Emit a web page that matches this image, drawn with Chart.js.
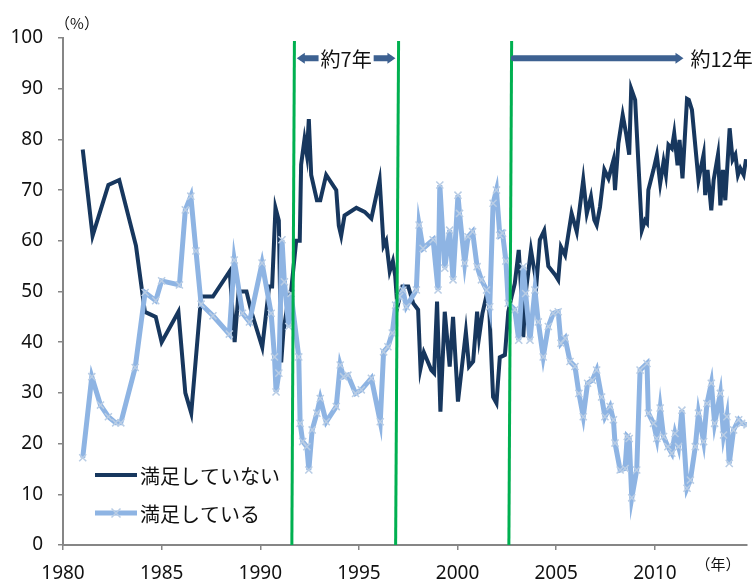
<!DOCTYPE html>
<html lang="ja">
<head>
<meta charset="utf-8">
<title>満足度の推移</title>
<script src="https://cdn.jsdelivr.net/npm/chart.js@4.4.1/dist/chart.umd.min.js"></script>
<style>
    html, body { margin: 0; padding: 0; background: #fff; }
    #wrap { position: relative; width: 756px; height: 581px; }
</style>
</head>
<body>
<div id="wrap"><canvas id="chart"></canvas></div>
<script>
const FONT = '"Noto Sans", "Noto Sans CJK JP", sans-serif';
const JP_FONT = '"Noto Sans CJK JP", "Noto Sans", sans-serif';

// 満足していない
const notSatisfiedYears = [
    1981.0, 1981.5, 1982.3, 1982.85, 1983.7, 1984.15, 1984.7, 1985.0, 1985.85, 1986.2,
    1986.5, 1987.0, 1987.6, 1988.45, 1988.7, 1988.9, 1989.3, 1989.55, 1990.1, 1990.45,
    1990.6, 1990.77, 1990.94, 1991.06, 1991.17, 1991.4, 1991.56, 1991.82, 1992.0, 1992.07,
    1992.24, 1992.36, 1992.46, 1992.58, 1992.87, 1993.04, 1993.34, 1993.85, 1993.98, 1994.1,
    1994.27, 1994.87, 1995.29, 1995.63, 1996.05, 1996.25, 1996.38, 1996.56, 1996.72, 1996.84,
    1996.95, 1997.2, 1997.5, 1997.75, 1998.0, 1998.12, 1998.29, 1998.67, 1998.81, 1998.96,
    1999.13, 1999.35, 1999.6, 1999.77, 2000.02, 2000.42, 2000.58, 2000.79, 2000.99, 2001.09,
    2001.26, 2001.47, 2001.6, 2001.8, 2001.97, 2002.14, 2002.4, 2002.57, 2002.74, 2002.9,
    2003.1, 2003.28, 2003.33, 2003.45, 2003.72, 2003.89, 2004.0, 2004.17, 2004.39, 2004.6,
    2004.94, 2005.1, 2005.24, 2005.45, 2005.78, 2006.04, 2006.37, 2006.55, 2006.76, 2006.93,
    2007.05, 2007.22, 2007.44, 2007.65, 2007.9, 2007.98, 2008.15, 2008.37, 2008.54, 2008.7,
    2008.8, 2009.0, 2009.34, 2009.5, 2009.6, 2009.67, 2009.93, 2010.1, 2010.27, 2010.44,
    2010.56, 2010.69, 2010.86, 2010.98, 2011.15, 2011.25, 2011.4, 2011.63, 2011.72, 2011.88,
    2012.21, 2012.47, 2012.55, 2012.67, 2012.86, 2012.98, 2013.2, 2013.32, 2013.45, 2013.57,
    2013.79, 2013.94, 2014.08, 2014.21, 2014.33, 2014.5, 2014.62
];
const notSatisfiedValues = [
    78, 61, 71, 72, 59, 46, 45, 40, 46, 30,
    26, 49, 49, 54, 40, 50, 50, 46, 39, 51,
    51, 66.5, 64, 36, 42, 48, 50, 60, 60, 75,
    80, 77, 84, 73, 68, 68, 73, 70, 63, 61,
    65, 66.5, 65.7, 64.4, 72, 59, 60, 54, 56, 53,
    47, 51, 51, 47.7, 46.4, 34.8, 38, 34.5, 33.9, 48,
    26.3, 46, 35.2, 45, 28.3, 42, 35.2, 36.2, 46, 41,
    45.7, 49.3, 47, 29.2, 28, 37, 37.5, 46, 49, 51.6,
    58.2, 46.4, 41, 49.6, 58.2, 54.2, 51.6, 60.2, 62, 55,
    53.3, 52.3, 58.8, 57.2, 65.4, 61.8, 72, 65.4, 68.7, 64.1,
    63.1, 66.7, 74, 72.3, 75.9, 70, 79.2, 84.8, 81.2, 77,
    90, 87.8, 62.1, 64, 63.5, 70, 74, 76.9, 71.3, 75.6,
    73, 78.9, 78.2, 81.2, 74.9, 79.9, 72.3, 88, 87.8, 85.8,
    72, 77, 69, 74, 66, 72, 77, 67, 74, 68,
    82.2, 76, 77, 73, 74.3, 73, 76.1
];

// 満足している
const satisfiedYears = [
    1981.0, 1981.46, 1981.9, 1982.3, 1982.67, 1982.93, 1983.66, 1984.16, 1984.7, 1985.0,
    1985.9, 1986.2, 1986.48, 1986.74, 1987.0, 1987.6, 1988.43, 1988.68, 1989.1, 1989.45,
    1990.09, 1990.55, 1990.72, 1990.8, 1990.94, 1991.1, 1991.22, 1991.44, 1991.56, 1991.95,
    1992.02, 1992.15, 1992.36, 1992.46, 1992.63, 1992.87, 1993.04, 1993.34, 1993.85, 1994.05,
    1994.22, 1994.44, 1994.83, 1995.12, 1995.63, 1996.08, 1996.25, 1996.47, 1996.69, 1996.86,
    1997.06, 1997.23, 1997.4, 1997.91, 1998.05, 1998.25, 1998.76, 1999.01, 1999.1, 1999.35,
    1999.6, 1999.77, 2000.02, 2000.1, 2000.36, 2000.53, 2000.76, 2000.99, 2001.21, 2001.47,
    2001.63, 2001.8, 2001.97, 2002.14, 2002.28, 2002.45, 2002.57, 2002.9, 2003.1, 2003.33,
    2003.45, 2003.67, 2003.92, 2004.09, 2004.34, 2004.6, 2004.85, 2005.1, 2005.24, 2005.45,
    2005.7, 2005.95, 2006.15, 2006.37, 2006.59, 2006.83, 2007.05, 2007.3, 2007.47, 2007.73,
    2007.9, 2007.98, 2008.24, 2008.49, 2008.6, 2008.7, 2008.83, 2009.08, 2009.25, 2009.6,
    2009.67, 2009.93, 2010.1, 2010.27, 2010.44, 2010.66, 2010.86, 2011.02, 2011.2, 2011.37,
    2011.63, 2011.8, 2012.05, 2012.21, 2012.47, 2012.64, 2012.86, 2013.03, 2013.32, 2013.48,
    2013.65, 2013.77, 2013.99, 2014.25, 2014.4, 2014.67
];
const satisfiedValues = [
    17.2, 33.2, 27.6, 25.3, 24.1, 24.1, 35, 49.8, 48.2, 52.1,
    51.3, 66.1, 68.8, 58, 47.5, 45.2, 41.6, 56.2, 45.7, 44,
    55.6, 45.7, 37.1, 30.2, 33.9, 60.2, 51.9, 43.1, 49.6, 37.1,
    24, 20.4, 19.4, 14.8, 22.7, 26, 28.9, 24.3, 27.3, 35.5,
    33.2, 33.5, 29.9, 30.6, 32.9, 24.3, 38.1, 39.1, 41.8, 47.3,
    49, 50.3, 47, 50.3, 63.1, 58.5, 60.2, 50.3, 71, 54.6,
    62.1, 52.3, 69, 65.4, 55.6, 60.8, 61.8, 54.9, 52.3, 50.3,
    47, 67.4, 70, 61.1, 61.5, 56, 47.7, 46.4, 40.4, 54.9,
    49.6, 40.4, 50.3, 44, 37.1, 43.1, 45.7, 46, 39.8, 40.8,
    36.2, 35.2, 29.9, 25.3, 31.9, 32.5, 34.5, 29.2, 25.3, 27.3,
    24.7, 20.1, 14.8, 15.1, 21.4, 21, 9.3, 14.8, 34.5, 35.8,
    26, 24, 21, 27, 21.4, 19.4, 18.1, 22, 19.4, 26.6,
    11.2, 12.8, 19.4, 26, 20.4, 27.9, 31.9, 24, 29.9, 21.7,
    25.3, 16.1, 22.7, 24.7, 24, 23.7
];

const xTickYears = [1980, 1985, 1990, 1995, 2000, 2005, 2010];
const xMin = 1980;
const xMax = 2014.67;

// 緑の縦線 (下端と上端の年)
const boundaryBottomYears = [1991.6, 1996.86, 2002.6];
const boundaryTopYears = [1991.73, 1997.01, 2002.74];
const boundaryTopValue = 99.4;

// 期間の矢印
const spanLabels = ["約7年", "約12年"];
const spanStartYears = [1991.85, 2002.75];
const spanEndYears = [1996.85, 2011.45];
const spanBothHeads = [true, false];
const spanValue = 96;

const NAVY = "#17375e";
const LIGHT = "#8eb4e3";
const LIGHT_MARK = "#b9cde5";
const GREEN = "#00b050";
const ARROW = "#3d6191";
const AXIS = "#868686";

function toPoints(years, values) {
    return years.map((yr, i) => ({ x: yr, y: values[i] }));
}

function arrowHead(ctx, tipX, tipY, dir) {
    ctx.beginPath();
    ctx.moveTo(tipX, tipY);
    ctx.lineTo(tipX - dir * 8, tipY - 5.5);
    ctx.lineTo(tipX - dir * 8, tipY + 5.5);
    ctx.closePath();
    ctx.fill();
}

const overlayPlugin = {
    id: "overlay",
    afterDatasetsDraw(chart) {
        const { ctx, scales: { x, y } } = chart;
        ctx.save();

        // vertical boundaries
        ctx.strokeStyle = GREEN;
        ctx.lineWidth = 3;
        boundaryBottomYears.forEach((yr, i) => {
            ctx.beginPath();
            ctx.moveTo(x.getPixelForValue(yr), y.getPixelForValue(0));
            ctx.lineTo(x.getPixelForValue(boundaryTopYears[i]), y.getPixelForValue(boundaryTopValue));
            ctx.stroke();
        });

        // span arrows
        const py = y.getPixelForValue(spanValue);
        ctx.font = `20px ${JP_FONT}`;
        ctx.textBaseline = "middle";
        spanLabels.forEach((label, i) => {
            const x1 = x.getPixelForValue(spanStartYears[i]);
            const x2 = x.getPixelForValue(spanEndYears[i]);
            ctx.strokeStyle = ARROW;
            ctx.fillStyle = ARROW;
            ctx.lineWidth = 6;
            ctx.lineCap = "round";
            ctx.beginPath();
            ctx.moveTo(spanBothHeads[i] ? x1 + 6 : x1 + 2, py);
            ctx.lineTo(x2 - 6, py);
            ctx.stroke();
            arrowHead(ctx, x2, py, 1);
            if (spanBothHeads[i]) arrowHead(ctx, x1, py, -1);

            const w = ctx.measureText(label).width;
            let tx;
            if (spanBothHeads[i]) {
                tx = (x1 + x2) / 2 - w / 2;
                ctx.fillStyle = "#fff";
                ctx.fillRect(tx - 2, py - 12, w + 4, 24);
            } else {
                tx = x2 + 7;
            }
            ctx.fillStyle = "#111";
            ctx.textAlign = "left";
            ctx.fillText(label, tx, py + 1);
        });
        ctx.restore();
    },
    afterDraw(chart) {
        const { ctx, chartArea } = chart;
        ctx.save();

        // legend inside the plot
        const lx = chartArea.left + 32;
        const rows = [chartArea.bottom - 70, chartArea.bottom - 32];
        chart.data.datasets.slice().reverse().forEach((ds, i) => {
            const ry = rows[i];
            ctx.strokeStyle = ds.borderColor;
            ctx.lineWidth = ds.borderWidth;
            ctx.beginPath();
            ctx.moveTo(lx, ry);
            ctx.lineTo(lx + 42, ry);
            ctx.stroke();
            if (ds.pointRadius) {
                ctx.strokeStyle = ds.pointBorderColor;
                ctx.lineWidth = 1.5;
                const cx = lx + 21, r = 4.5;
                ctx.beginPath();
                ctx.moveTo(cx - r, ry - r); ctx.lineTo(cx + r, ry + r);
                ctx.moveTo(cx + r, ry - r); ctx.lineTo(cx - r, ry + r);
                ctx.stroke();
            }
            ctx.fillStyle = "#111";
            ctx.font = `20px ${JP_FONT}`;
            ctx.textAlign = "left";
            ctx.textBaseline = "middle";
            ctx.fillText(ds.label, lx + 45, ry + 1);
        });

        // unit labels
        ctx.font = `15px ${JP_FONT}`;
        ctx.fillStyle = "#111";
        ctx.textAlign = "center";
        ctx.textBaseline = "middle";
        ctx.fillText("（%）", chartArea.left + 14, chartArea.top - 15);
        ctx.fillText("（年）", chartArea.right - 29, chartArea.bottom + 19);
        ctx.restore();
    }
};

new Chart(document.getElementById("chart"), {
    type: "line",
    data: {
        datasets: [
            {
                label: "満足している",
                data: toPoints(satisfiedYears, satisfiedValues),
                borderColor: LIGHT,
                borderWidth: 5,
                pointStyle: "crossRot",
                pointRadius: 5,
                pointBorderColor: LIGHT_MARK,
                pointBorderWidth: 1.5,
                pointBackgroundColor: "transparent",
                tension: 0,
                order: 0
            },
            {
                label: "満足していない",
                data: toPoints(notSatisfiedYears, notSatisfiedValues),
                borderColor: NAVY,
                borderWidth: 4,
                pointRadius: 0,
                tension: 0,
                order: 1
            }
        ]
    },
    options: {
        responsive: true,
        maintainAspectRatio: false,
        animation: false,
        layout: { padding: { top: 38, right: 9, left: 0, bottom: 0 } },
        plugins: {
            legend: { display: false },
            tooltip: { enabled: false }
        },
        scales: {
            x: {
                type: "linear",
                min: xMin,
                max: xMax,
                afterBuildTicks: (scale) => { scale.ticks = xTickYears.map((v) => ({ value: v })); },
                afterFit: (scale) => { scale.height = 36; },
                grid: { drawOnChartArea: false, tickLength: 5, color: AXIS, lineWidth: 1.5 },
                border: { color: AXIS, width: 2 },
                ticks: {
                    autoSkip: false,
                    maxRotation: 0,
                    padding: 12,
                    color: "#111",
                    font: { family: FONT, size: 19 },
                    callback: (v) => String(v)
                }
            },
            y: {
                min: 0,
                max: 100,
                afterFit: (scale) => { scale.width = 63; },
                grid: { drawOnChartArea: false, tickLength: 5, color: AXIS, lineWidth: 1.5 },
                border: { color: AXIS, width: 2 },
                ticks: {
                    stepSize: 10,
                    padding: 15,
                    color: "#111",
                    font: { family: FONT, size: 19 }
                }
            }
        }
    },
    plugins: [overlayPlugin]
});
</script>
</body>
</html>
